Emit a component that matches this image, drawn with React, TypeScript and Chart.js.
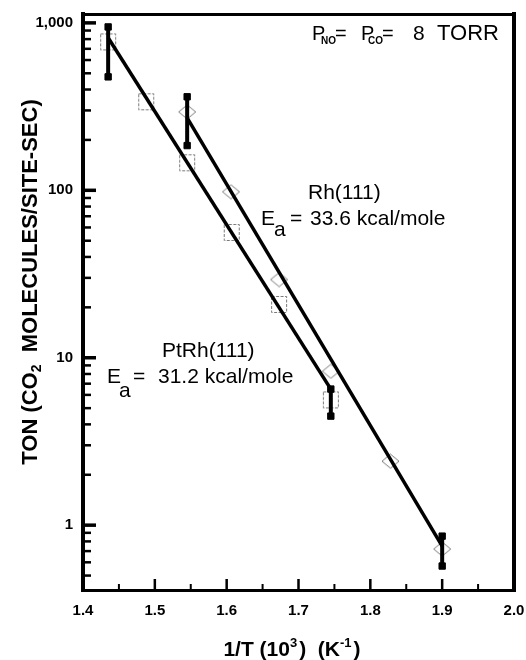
import React, { useEffect, useRef } from 'react';
import { Chart, registerables } from 'chart.js';

Chart.register(...registerables);

// ---- data ----
const ptrhX = [1.435, 1.488, 1.545, 1.607, 1.673, 1.745];
const ptrhY = [770, 338, 146, 56, 20.8, 5.6];
const rhX = [1.545, 1.606, 1.673, 1.745, 1.828, 1.9];
const rhY = [294, 98, 29.3, 8.3, 2.41, 0.72];

const ptrhFitX = [1.435, 1.745];
const ptrhFitY = [815, 6.5];
const rhFitX = [1.545, 1.9];
const rhFitY = [271, 0.75];

const ptrhErrX = [1.435, 1.745];
const ptrhErrLow = [476, 4.48];
const ptrhErrHigh = [946, 6.5];
const rhErrX = [1.545, 1.9];
const rhErrLow = [185, 0.57];
const rhErrHigh = [362, 0.86];

const xTicks = [1.4, 1.5, 1.6, 1.7, 1.8, 1.9, 2.0];
const xTickLabels = ['1.4', '1.5', '1.6', '1.7', '1.8', '1.9', '2.0'];
const xMinorTicks = [1.45, 1.55, 1.65, 1.75, 1.85, 1.95];
const yTicks = [1, 10, 100, 1000];
const yTickLabels = ['1', '10', '100', '1,000'];
const yMinorTicks = [
  0.5, 0.6, 0.7, 0.8, 0.9,
  2, 3, 4, 5, 6, 7, 8, 9,
  20, 30, 40, 50, 60, 70, 80, 90,
  200, 300, 400, 500, 600, 700, 800, 900,
];

const FONT = '"Liberation Sans", Arial, Helvetica, sans-serif';

function markerSquare(): HTMLCanvasElement {
  const c = document.createElement('canvas');
  c.width = 18;
  c.height = 19;
  const g = c.getContext('2d')!;
  g.strokeStyle = '#7a7a7a';
  g.lineWidth = 1;
  g.setLineDash([3, 1.5]);
  g.strokeRect(1.5, 1.5, 15, 16);
  return c;
}

function markerDiamond(): HTMLCanvasElement {
  const c = document.createElement('canvas');
  c.width = 19;
  c.height = 16;
  const g = c.getContext('2d')!;
  g.strokeStyle = '#7a7a7a';
  g.lineWidth = 1;
  g.beginPath();
  g.moveTo(9.5, 1);
  g.lineTo(18, 8);
  g.lineTo(9.5, 15);
  g.lineTo(1, 8);
  g.closePath();
  g.stroke();
  return c;
}

const pts = (xs: number[], ys: number[]) => xs.map((x, i) => ({ x, y: ys[i] }));

function txt(ctx: CanvasRenderingContext2D, s: string, x: number, y: number, font: string) {
  ctx.font = font;
  ctx.fillText(s, x, y);
}

const zeroPad = (s: any) => {
  s.paddingLeft = 0;
  s.paddingRight = 0;
  s.paddingTop = 0;
  s.paddingBottom = 0;
};

const overlay = {
  id: 'overlay',
  afterDraw(chart: any) {
    const ctx: CanvasRenderingContext2D = chart.ctx;
    const a = chart.chartArea;
    const xs = chart.scales.x;
    const ys = chart.scales.y;
    ctx.save();
    ctx.fillStyle = '#000';

    const L = Math.round(a.left);
    const R = Math.round(a.right);
    const T = Math.round(a.top);
    const B = Math.round(a.bottom);

    // frame
    ctx.fillRect(L - 2, T - 2, 4, B - T + 4);
    ctx.fillRect(R - 2, T - 2, 4, B - T + 4);
    ctx.fillRect(L - 2, T - 1, R - L + 4, 3);
    ctx.fillRect(L - 2, B - 1, R - L + 4, 3);

    // y ticks (inward)
    for (const v of yTicks) {
      const p = ys.getPixelForValue(v);
      ctx.fillRect(L, p - 1.75, 13, 3.5);
    }
    for (const v of yMinorTicks) {
      const p = ys.getPixelForValue(v);
      ctx.fillRect(L, p - 1.25, 8, 2.5);
    }
    // x ticks (inward)
    for (const v of xTicks.slice(1, -1)) {
      const p = xs.getPixelForValue(v);
      ctx.fillRect(p - 1.25, B - 11, 2.5, 11);
    }
    for (const v of xMinorTicks) {
      const p = xs.getPixelForValue(v);
      ctx.fillRect(p - 1, B - 6, 2, 6);
    }

    ctx.textBaseline = 'alphabetic';
    ctx.textAlign = 'left';

    // x axis title: 1/T (10^3) (K^-1)
    {
      const big = `bold 21px ${FONT}`;
      const small = `bold 13px ${FONT}`;
      const parts: [string, string, number, number][] = [
        ['1/T (10', big, 0, 0],
        ['3', small, -9, 2],
        [')  (K', big, 0, 0],
        ['-1', small, -9, 2],
        [')', big, 0, 0],
      ];
      let total = 0;
      for (const [s, f, , g] of parts) {
        ctx.font = f;
        total += ctx.measureText(s).width + g;
      }
      let x = 292 - total / 2;
      for (const [s, f, dy, g] of parts) {
        txt(ctx, s, x, 656 + dy, f);
        x += ctx.measureText(s).width + g;
      }
    }

    // y axis title (rotated)
    {
      ctx.save();
      ctx.translate(37, 282);
      ctx.rotate(-Math.PI / 2);
      const big = `bold 22px ${FONT}`;
      const small = `bold 14px ${FONT}`;
      const parts: [string, string, number][] = [
        ['TON (CO', big, 0],
        ['2', small, 4],
        ['  MOLECULES/SITE-SEC)', big, 0],
      ];
      let total = 0;
      for (const [s, f] of parts) {
        ctx.font = f;
        total += ctx.measureText(s).width;
      }
      let x = -total / 2;
      for (const [s, f, dy] of parts) {
        txt(ctx, s, x, dy, f);
        x += ctx.measureText(s).width;
      }
      ctx.restore();
    }

    // top-right condition label
    {
      const f = `20px ${FONT}`;
      const fs = `bold 10px ${FONT}`;
      txt(ctx, 'P', 312, 40, f);
      txt(ctx, 'NO', 321, 44, fs);
      txt(ctx, '=', 335, 40, f);
      txt(ctx, 'P', 361, 40, f);
      txt(ctx, 'CO', 368, 44, fs);
      txt(ctx, '=', 382, 40, f);
      txt(ctx, '8', 413, 40, `21px ${FONT}`);
      txt(ctx, 'TORR', 437, 40, `22px ${FONT}`);
    }

    // Rh(111) annotation
    {
      const f = `21px ${FONT}`;
      txt(ctx, 'Rh(111)', 308, 199, f);
      txt(ctx, 'E', 261, 225, f);
      txt(ctx, 'a', 274, 236, f);
      txt(ctx, '=', 290, 225, f);
      txt(ctx, '33.6 kcal/mole', 310, 225, f);
    }

    // PtRh(111) annotation
    {
      const f = `21px ${FONT}`;
      txt(ctx, 'PtRh(111)', 162, 357, f);
      txt(ctx, 'E', 107, 383, f);
      txt(ctx, 'a', 119, 397, f);
      txt(ctx, '=', 133, 383, f);
      txt(ctx, '31.2 kcal/mole', 158, 383, f);
    }

    ctx.restore();
  },
};

export default function App() {
  const ref = useRef<HTMLCanvasElement | null>(null);

  useEffect(() => {
    if (!ref.current) return;
    const sq = markerSquare();
    const dm = markerDiamond();

    const lineDs = (xs: number[], ys: number[]) => ({
      data: pts(xs, ys),
      showLine: true,
      borderColor: '#000',
      borderWidth: 3.5,
      pointRadius: 0,
      fill: false,
    });
    const errDs = (x: number, lo: number, hi: number) => ({
      data: [
        { x, y: lo },
        { x, y: hi },
      ],
      showLine: true,
      borderColor: '#000',
      borderWidth: 4,
      pointStyle: 'rect',
      pointRadius: 4.5,
      pointBackgroundColor: '#000',
      pointBorderColor: '#000',
      pointBorderWidth: 1,
      fill: false,
    });

    const datasets: any[] = [
      lineDs(ptrhFitX, ptrhFitY),
      lineDs(rhFitX, rhFitY),
      ...ptrhErrX.map((x, i) => errDs(x, ptrhErrLow[i], ptrhErrHigh[i])),
      ...rhErrX.map((x, i) => errDs(x, rhErrLow[i], rhErrHigh[i])),
      {
        label: 'PtRh(111)',
        data: pts(ptrhX, ptrhY),
        showLine: false,
        pointStyle: sq,
        pointRadius: 9,
      },
      {
        label: 'Rh(111)',
        data: pts(rhX, rhY),
        showLine: false,
        pointStyle: dm,
        pointRadius: 9,
      },
    ];

    const tickFont = { family: FONT, size: 15, weight: 'bold' as const };

    const chart = new Chart(ref.current, {
      type: 'scatter',
      data: { datasets },
      options: {
        animation: false,
        responsive: false,
        events: [],
        layout: { padding: { left: 0, top: 14, right: 12, bottom: 0 } },
        plugins: { legend: { display: false }, tooltip: { enabled: false } },
        scales: {
          x: {
            type: 'linear',
            min: 1.4,
            max: 2.0,
            grid: { display: false, drawTicks: false },
            border: { display: false },
            afterBuildTicks: (s: any) => {
              s.ticks = xTicks.map((v) => ({ value: v }));
            },
            afterFit: (s: any) => {
              s.height = 70;
              zeroPad(s);
            },
            ticks: {
              autoSkip: false,
              maxRotation: 0,
              padding: 12,
              color: '#000',
              font: tickFont,
              callback: (v: any) => xTickLabels[xTicks.indexOf(v)] ?? '',
            },
          },
          y: {
            type: 'logarithmic',
            min: 0.41,
            max: 1130,
            grid: { display: false, drawTicks: false },
            border: { display: false },
            afterBuildTicks: (s: any) => {
              s.ticks = yTicks.map((v) => ({ value: v }));
            },
            afterFit: (s: any) => {
              s.width = 83;
              zeroPad(s);
            },
            ticks: {
              autoSkip: false,
              padding: 10,
              color: '#000',
              font: tickFont,
              callback: (v: any) => yTickLabels[yTicks.indexOf(v)] ?? '',
            },
          },
        },
      } as any,
      plugins: [overlay],
    });
    return () => chart.destroy();
  }, []);

  return (
    <div style={{ position: 'fixed', left: 0, top: 0, width: 526, height: 660, background: '#fff' }}>
      <canvas ref={ref} width={526} height={660} style={{ display: 'block' }} />
    </div>
  );
}
